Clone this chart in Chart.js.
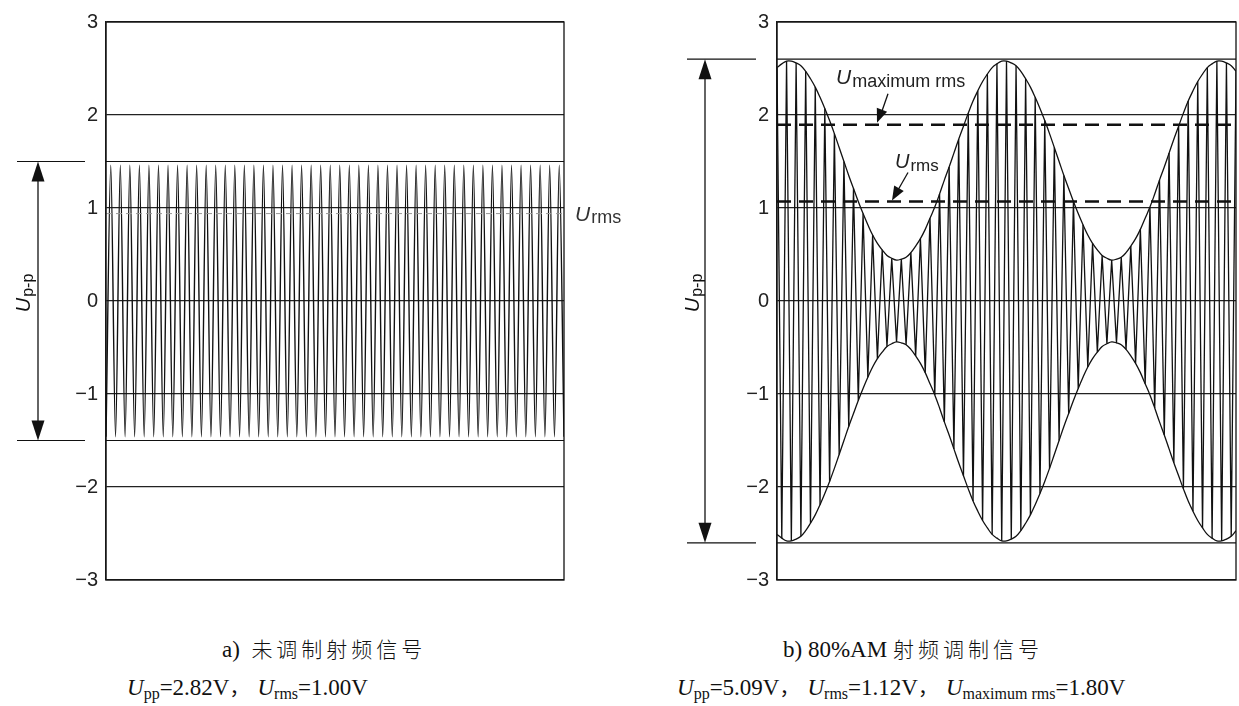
<!DOCTYPE html>
<html>
<head>
<meta charset="utf-8">
<script src="https://cdn.jsdelivr.net/npm/chart.js@4"></script>
<style>
  body { margin: 0; background: #fff; width: 1239px; height: 706px; position: relative; overflow: hidden; }
  canvas { position: absolute; top: 0; }
  .cap { position: absolute; font-family: "Liberation Serif", "Noto Sans CJK SC", serif; font-size: 23px; color: #111; white-space: nowrap; line-height: 26px; }
  .cap sub { font-size: 16px; vertical-align: -4px; line-height: 0; }
  .cjk { font-family: "Noto Sans CJK SC", sans-serif; font-size: 21px; letter-spacing: 4px; font-weight: 300; }
  .cm { font-family: "Noto Sans CJK SC", sans-serif; font-size: 20px; margin-right: 8px; }
</style>
</head>
<body>
<canvas id="left" width="640" height="600" style="left:0"></canvas>
<canvas id="right" width="599" height="600" style="left:640px"></canvas>

<div class="cap" style="left:222px; top:635px">a)&nbsp; <span class="cjk">未调制射频信号</span></div>
<div class="cap" style="left:127px; top:674px"><i>U</i><sub>pp</sub>=2.82V<span class="cm">，</span><i>U</i><sub>rms</sub>=1.00V</div>
<div class="cap" style="left:783px; top:635px">b) 80%AM <span class="cjk">射频调制信号</span></div>
<div class="cap" style="left:677px; top:674px"><i>U</i><sub>pp</sub>=5.09V<span class="cm">，</span><i>U</i><sub>rms</sub>=1.12V<span class="cm">，</span><i>U</i><sub>maximum rms</sub>=1.80V</div>

<script>
// y axis ticks
const yTicks = [-3, -2, -1, 0, 1, 2, 3];

// a) unmodulated carrier, one value per half cycle (peaks read off the plot)
const leftCarrier = [
  -1.46, 1.46, -1.46, 1.46, -1.46, 1.46, -1.46, 1.46, -1.46, 1.46, -1.46, 1.46,
  -1.46, 1.46, -1.46, 1.46, -1.46, 1.46, -1.46, 1.46, -1.46, 1.46, -1.46, 1.46,
  -1.46, 1.46, -1.46, 1.46, -1.46, 1.46, -1.46, 1.46, -1.46, 1.46, -1.46, 1.46,
  -1.46, 1.46, -1.46, 1.46, -1.46, 1.46, -1.46, 1.46, -1.46, 1.46, -1.46, 1.46,
  -1.46, 1.46, -1.46, 1.46, -1.46, 1.46, -1.46, 1.46, -1.46, 1.46, -1.46, 1.46,
  -1.46, 1.46, -1.46, 1.46, -1.46, 1.46, -1.46, 1.46, -1.46, 1.46, -1.46, 1.46,
  -1.46, 1.46, -1.46, 1.46, -1.46, 1.46, -1.46, 1.46, -1.46, 1.46, -1.46, 1.46,
  -1.46, 1.46, -1.46, 1.46, -1.46, 1.46, -1.46, 1.46, -1.46, 1.46, -1.46, 1.46,
  -1.46
];
const leftPeakLine = 1.5;
const leftRmsLine = 0.94;

// b) 80% AM carrier, half-cycle peaks following the envelope
const rightCarrier = [
  2.51, -2.55, 2.58, -2.58, 2.56, -2.53, 2.47, -2.39, 2.30, -2.19, 2.07, -1.94, 1.80, -1.65, 1.50,
  -1.35, 1.21, -1.07, 0.94, -0.82, 0.71, -0.62, 0.55, -0.49, 0.46, -0.44, 0.45, -0.47, 0.52, -0.59,
  0.67, -0.77, 0.89, -1.01, 1.15, -1.30, 1.44, -1.59, 1.74, -1.88, 2.02, -2.15, 2.26, -2.36, 2.44,
  -2.51, 2.55, -2.58, 2.58, -2.56, 2.53, -2.47, 2.39, -2.30, 2.19, -2.07, 1.94, -1.80, 1.65, -1.50,
  1.35, -1.21, 1.07, -0.94, 0.82, -0.71, 0.62, -0.55, 0.49, -0.46, 0.44, -0.45, 0.47, -0.52, 0.59,
  -0.67, 0.77, -0.89, 1.01, -1.15, 1.30, -1.44, 1.59, -1.74, 1.88, -2.02, 2.15, -2.26, 2.36, -2.44,
  2.51, -2.55, 2.58, -2.58, 2.56, -2.53, 2.47
];
const rightPeakLine = 2.6;
const rightMaxRmsLine = 1.895;
const rightRmsLine = 1.07;

const INK = '#111';

function arrowHead(ctx, tx, ty, fx, fy, len, half) {
  const a = Math.atan2(ty - fy, tx - fx);
  const bx = tx - len * Math.cos(a), by = ty - len * Math.sin(a);
  ctx.beginPath();
  ctx.moveTo(tx, ty);
  ctx.lineTo(bx + half * Math.sin(a), by - half * Math.cos(a));
  ctx.lineTo(bx - half * Math.sin(a), by + half * Math.cos(a));
  ctx.closePath();
  ctx.fill();
}

function hLine(ctx, x1, x2, y, w) {
  ctx.beginPath();
  ctx.lineWidth = w;
  ctx.moveTo(x1, y);
  ctx.lineTo(x2, y);
  ctx.stroke();
}

// U with a subscript
function uLabel(ctx, x, y, uSize, sub, subSize, drop) {
  ctx.textAlign = 'left';
  ctx.textBaseline = 'alphabetic';
  ctx.font = 'italic ' + uSize + 'px "Liberation Sans"';
  ctx.fillText('U', x, y);
  const w = ctx.measureText('U').width;
  ctx.font = subSize + 'px "Liberation Sans"';
  ctx.fillText(sub, x + w + 1, y + drop);
}

// vertical peak-to-peak marker with side lines
function ppMarker(ctx, chart, peak, x1, x2, ax, lx) {
  const y = chart.scales.y;
  const top = y.getPixelForValue(peak), bot = y.getPixelForValue(-peak);
  const area = chart.chartArea;
  ctx.strokeStyle = INK;
  ctx.fillStyle = INK;
  hLine(ctx, x1, x2, top, 1.2);
  hLine(ctx, x1, x2, bot, 1.2);
  hLine(ctx, area.left, area.right, top, 1.2);
  hLine(ctx, area.left, area.right, bot, 1.2);
  ctx.beginPath();
  ctx.lineWidth = 1.3;
  ctx.moveTo(ax, top + 10);
  ctx.lineTo(ax, bot - 10);
  ctx.stroke();
  arrowHead(ctx, ax, top, ax, top + 30, 20, 6.5);
  arrowHead(ctx, ax, bot, ax, bot - 30, 20, 6.5);
  // rotated label
  ctx.save();
  ctx.translate(lx, y.getPixelForValue(0) - 8);
  ctx.rotate(-Math.PI / 2);
  ctx.font = 'italic 20px "Liberation Sans"';
  const wu = ctx.measureText('U').width;
  ctx.font = '16px "Liberation Sans"';
  const wp = ctx.measureText('p-p').width;
  const start = -(wu + wp + 1) / 2;
  uLabel(ctx, start, 7, 20, 'p-p', 16, 3);
  ctx.restore();
}

const leftOverlay = {
  id: 'leftOverlay',
  afterDraw(chart) {
    const ctx = chart.ctx, area = chart.chartArea, y = chart.scales.y;
    ctx.save();
    // faint rms marker
    ctx.strokeStyle = '#9a9a9a';
    ctx.setLineDash([6, 4]);
    hLine(ctx, area.left, area.right, y.getPixelForValue(leftRmsLine), 1);
    ctx.setLineDash([]);
    ppMarker(ctx, chart, leftPeakLine, 17, 85, 38, 23);
    ctx.strokeStyle = INK;
    ctx.lineWidth = 1.3;
    ctx.strokeRect(area.left, area.top, area.right - area.left, area.bottom - area.top);
    ctx.fillStyle = '#333';
    uLabel(ctx, 575, y.getPixelForValue(leftRmsLine) + 7, 21, 'rms', 18, 2);
    ctx.restore();
  }
};

const rightOverlay = {
  id: 'rightOverlay',
  afterDraw(chart) {
    const ctx = chart.ctx, area = chart.chartArea, y = chart.scales.y;
    ctx.save();
    ctx.strokeStyle = INK;
    ctx.setLineDash([14, 8]);
    hLine(ctx, area.left, area.right, y.getPixelForValue(rightMaxRmsLine), 2.4);
    hLine(ctx, area.left, area.right, y.getPixelForValue(rightRmsLine), 2.4);
    ctx.setLineDash([]);
    ppMarker(ctx, chart, rightPeakLine, 47, 116, 65, 52);
    ctx.strokeStyle = INK;
    ctx.lineWidth = 1.3;
    ctx.strokeRect(area.left, area.top, area.right - area.left, area.bottom - area.top);

    const yMax = y.getPixelForValue(rightMaxRmsLine);
    const yRms = y.getPixelForValue(rightRmsLine);
    ctx.fillStyle = '#222';
    uLabel(ctx, 196, yMax - 41, 21, 'maximum rms', 18, 3);
    uLabel(ctx, 255, yRms - 33, 20, 'rms', 17, 3);
    ctx.strokeStyle = INK;
    ctx.fillStyle = INK;
    ctx.lineWidth = 1.3;
    ctx.beginPath();
    ctx.moveTo(248, yMax - 31);
    ctx.lineTo(240, yMax - 8);
    ctx.stroke();
    arrowHead(ctx, 237, yMax - 2, 248, yMax - 31, 14, 5.5);
    ctx.beginPath();
    ctx.moveTo(268, yRms - 29);
    ctx.lineTo(256, yRms - 8);
    ctx.stroke();
    arrowHead(ctx, 252, yRms - 1, 268, yRms - 29, 14, 5.5);
    ctx.restore();
  }
};

function makeChart(id, datasets, padding, overlay, n) {
  return new Chart(document.getElementById(id), {
    type: 'line',
    data: { datasets: datasets },
    options: {
      responsive: false,
      animation: false,
      layout: { padding: padding },
      plugins: { legend: { display: false }, tooltip: { enabled: false } },
      elements: { point: { radius: 0 } },
      scales: {
        x: { type: 'linear', min: 0, max: n - 1, display: false },
        y: {
          min: -3,
          max: 3,
          afterFit(s) { s.width = 50; },
          afterBuildTicks(s) { s.ticks = yTicks.map(v => ({ value: v })); },
          ticks: {
            padding: 8,
            color: '#222',
            font: { family: 'Liberation Sans', size: 20 },
            callback: v => (v < 0 ? '\u2212' + Math.abs(v) : String(v))
          },
          grid: { color: '#222', lineWidth: 1.2, drawTicks: false },
          border: { display: true, color: '#222', width: 1.3 }
        }
      }
    },
    plugins: [overlay]
  });
}

makeChart('left', [
  {
    data: leftCarrier.map((v, i) => ({ x: i, y: v })),
    borderColor: INK, borderWidth: 1.4, tension: 0.3
  }
], { left: 56, right: 76, top: 22, bottom: 15 }, leftOverlay, leftCarrier.length);

makeChart('right', [
  {
    data: rightCarrier.map((v, i) => ({ x: i, y: v })),
    borderColor: INK, borderWidth: 1.3, tension: 0
  },
  {
    data: rightCarrier.map((v, i) => ({ x: i, y: Math.abs(v) })),
    borderColor: INK, borderWidth: 1.3, tension: 0.4
  },
  {
    data: rightCarrier.map((v, i) => ({ x: i, y: -Math.abs(v) })),
    borderColor: INK, borderWidth: 1.3, tension: 0.4
  }
], { left: 87, right: 3, top: 22, bottom: 15 }, rightOverlay, rightCarrier.length);
</script>
</body>
</html>
